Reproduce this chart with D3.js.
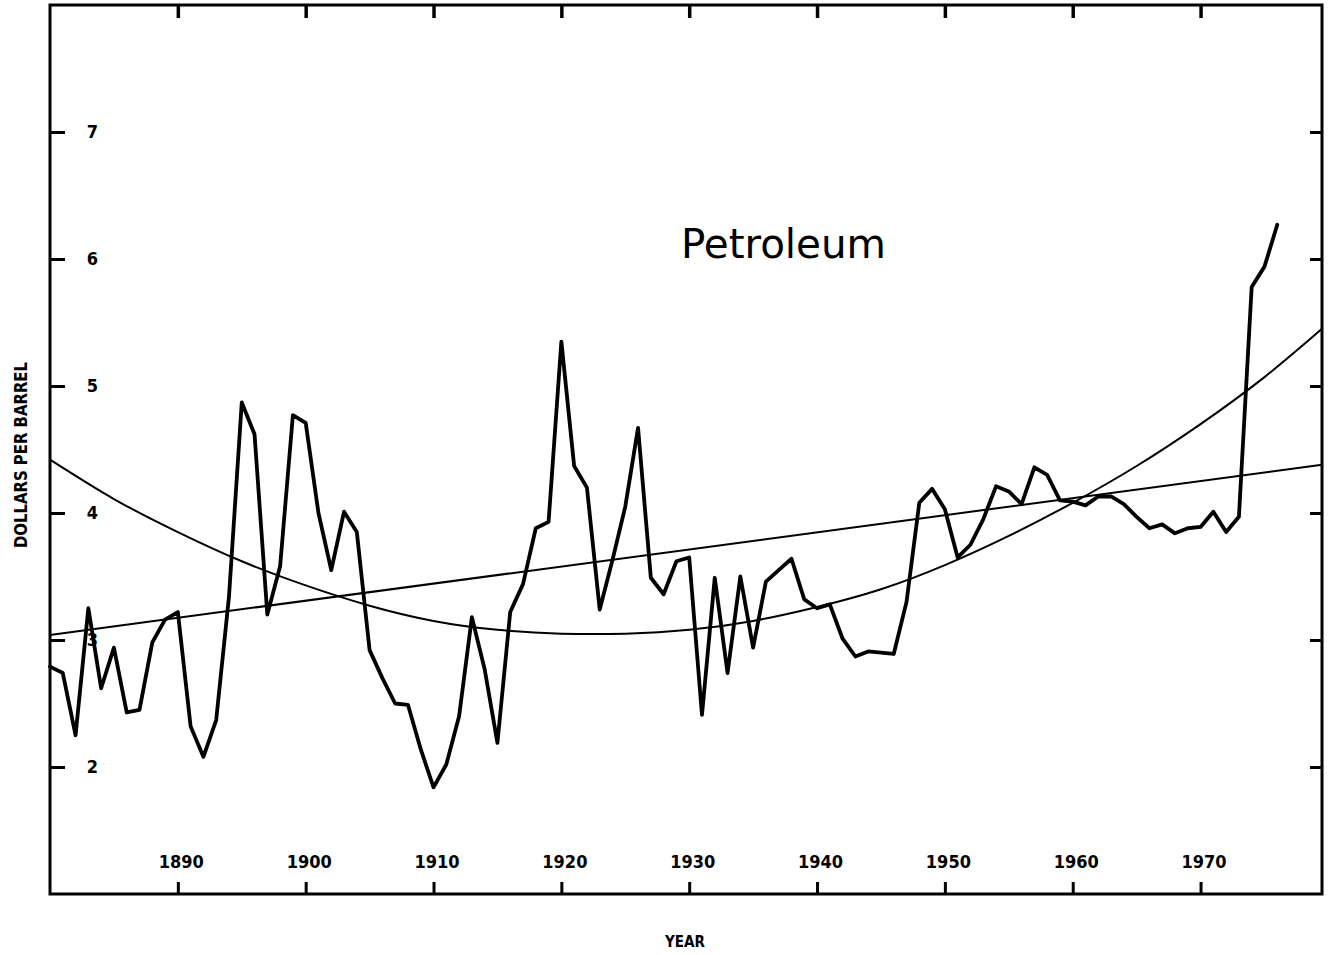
<!DOCTYPE html>
<html>
<head>
<meta charset="utf-8">
<script src="https://cdn.jsdelivr.net/npm/d3@7"></script>
<style>
  body { margin: 0; background: #fff; }
  svg text { fill: #000; }
</style>
</head>
<body>
<div id="chart"></div>
<script>
// yearly petroleum price, dollars per barrel
var years = d3.range(1880, 1977);
var prices = [
  2.79, 2.74, 2.25, 3.25, 2.62, 2.94, 2.43, 2.45, 2.98, 3.16,
  3.22, 2.32, 2.08, 2.37, 3.34, 4.87, 4.62, 3.20, 3.58, 4.77,
  4.71, 4.00, 3.55, 4.01, 3.85, 2.92, 2.70, 2.50, 2.49, 2.14,
  1.84, 2.02, 2.40, 3.18, 2.77, 2.19, 3.22, 3.44, 3.88, 3.93,
  5.35, 4.37, 4.20, 3.24, 3.63, 4.05, 4.67, 3.49, 3.36, 3.62,
  3.65, 2.41, 3.49, 2.74, 3.50, 2.94, 3.46, 3.55, 3.64, 3.32,
  3.25, 3.28, 3.01, 2.87, 2.91, 2.90, 2.89, 3.30, 4.08, 4.19,
  4.03, 3.65, 3.75, 3.95, 4.21, 4.17, 4.07, 4.36, 4.30, 4.10,
  4.09, 4.06, 4.13, 4.13, 4.07, 3.97, 3.88, 3.91, 3.84, 3.88,
  3.89, 4.01, 3.85, 3.97, 5.78, 5.94, 6.27
];

// fitted trends as drawn on the chart
var linearYears = [1880, 1979.5];
var linearValues = [3.04, 4.38];
var quadYears = [1880, 1885, 1890, 1895, 1900, 1905, 1910, 1915, 1920, 1925, 1930,
                 1935, 1940, 1945, 1950, 1955, 1960, 1965, 1970, 1975, 1979.5];
var quadValues = [4.42, 4.11, 3.85, 3.62, 3.43, 3.27, 3.15, 3.08, 3.05, 3.05, 3.08,
                  3.15, 3.26, 3.40, 3.59, 3.82, 4.08, 4.37, 4.70, 5.07, 5.45];

var xTickYears = [1890, 1900, 1910, 1920, 1930, 1940, 1950, 1960, 1970];
var yTickValues = [2, 3, 4, 5, 6, 7];

var width = 1330, height = 955;
var frame = {left: 50, right: 1322, top: 5, bottom: 894};

var svg = d3.select('#chart')
  .append('svg')
  .attr('width', width)
  .attr('height', height);

var x = d3.scaleLinear()
  .domain([1880, 1979.5])
  .range([frame.left, frame.right]);

var y = d3.scaleLinear()
  .domain([1, 8])
  .range([frame.bottom, frame.top]);

var tickFont = '"DejaVu Sans Condensed", "DejaVu Sans", sans-serif';

// left axis, ticks pointing inward, labels inside the frame
var yAxis = svg.append('g')
  .attr('transform', 'translate(' + frame.left + ',0)')
  .call(d3.axisLeft(y).tickValues(yTickValues).tickSizeInner(-15).tickSizeOuter(0)
    .tickPadding(-48).tickFormat(d3.format('d')));
yAxis.select('.domain').remove();
yAxis.selectAll('line').attr('stroke', '#000').attr('stroke-width', 3);
yAxis.selectAll('text')
  .style('font-family', tickFont)
  .style('font-weight', 'bold')
  .style('font-size', '18px');

// right axis ticks
var yAxisR = svg.append('g')
  .attr('transform', 'translate(' + frame.right + ',0)')
  .call(d3.axisRight(y).tickValues(yTickValues).tickSizeInner(-12).tickSizeOuter(0).tickFormat(''));
yAxisR.select('.domain').remove();
yAxisR.selectAll('line').attr('stroke', '#000').attr('stroke-width', 3);

// bottom axis, labels sit above the axis line
var xAxis = svg.append('g')
  .attr('transform', 'translate(0,' + frame.bottom + ')')
  .call(d3.axisBottom(x).tickValues(xTickYears).tickSizeInner(-12).tickSizeOuter(0)
    .tickFormat(d3.format('d')));
xAxis.select('.domain').remove();
xAxis.selectAll('line').attr('stroke', '#000').attr('stroke-width', 3);
xAxis.selectAll('text')
  .attr('y', -26)
  .attr('dy', 0)
  .attr('dx', 3)
  .style('font-family', tickFont)
  .style('font-weight', 'bold')
  .style('font-size', '18px');

// top axis ticks
var xAxisT = svg.append('g')
  .attr('transform', 'translate(0,' + frame.top + ')')
  .call(d3.axisTop(x).tickValues(xTickYears).tickSizeInner(-13).tickSizeOuter(0).tickFormat(''));
xAxisT.select('.domain').remove();
xAxisT.selectAll('line').attr('stroke', '#000').attr('stroke-width', 3.5);

// frame
svg.append('rect')
  .attr('x', frame.left)
  .attr('y', frame.top)
  .attr('width', frame.right - frame.left)
  .attr('height', frame.bottom - frame.top)
  .attr('fill', 'none')
  .attr('stroke', '#000')
  .attr('stroke-width', 3);

// trend lines
var linearData = linearYears.map(function(d, i) { return [d, linearValues[i]]; });
var quadData = quadYears.map(function(d, i) { return [d, quadValues[i]]; });

svg.append('path')
  .datum(linearData)
  .attr('fill', 'none')
  .attr('stroke', '#000')
  .attr('stroke-width', 2)
  .attr('d', d3.line()
    .x(function(d) { return x(d[0]); })
    .y(function(d) { return y(d[1]); }));

svg.append('path')
  .datum(quadData)
  .attr('fill', 'none')
  .attr('stroke', '#000')
  .attr('stroke-width', 2)
  .attr('d', d3.line()
    .curve(d3.curveNatural)
    .x(function(d) { return x(d[0]); })
    .y(function(d) { return y(d[1]); }));

// price series
var priceData = years.map(function(d, i) { return [d, prices[i]]; });

svg.append('path')
  .datum(priceData)
  .attr('fill', 'none')
  .attr('stroke', '#000')
  .attr('stroke-width', 3.8)
  .attr('stroke-linejoin', 'round')
  .attr('stroke-linecap', 'round')
  .attr('d', d3.line()
    .x(function(d) { return x(d[0]); })
    .y(function(d) { return y(d[1]); }));

// labels
svg.append('text')
  .attr('x', 681)
  .attr('y', 258)
  .attr('textLength', 205)
  .attr('lengthAdjust', 'spacingAndGlyphs')
  .style('font-family', tickFont)
  .style('font-size', '40px')
  .text('Petroleum');

svg.append('text')
  .attr('transform', 'translate(27,455) rotate(-90)')
  .attr('text-anchor', 'middle')
  .attr('textLength', 186)
  .attr('lengthAdjust', 'spacingAndGlyphs')
  .style('font-family', tickFont)
  .style('font-weight', 'bold')
  .style('font-size', '18px')
  .text('DOLLARS PER BARREL');

svg.append('text')
  .attr('x', 685)
  .attr('y', 947)
  .attr('text-anchor', 'middle')
  .attr('textLength', 40)
  .attr('lengthAdjust', 'spacingAndGlyphs')
  .style('font-family', tickFont)
  .style('font-weight', 'bold')
  .style('font-size', '16px')
  .text('YEAR');
</script>
</body>
</html>
